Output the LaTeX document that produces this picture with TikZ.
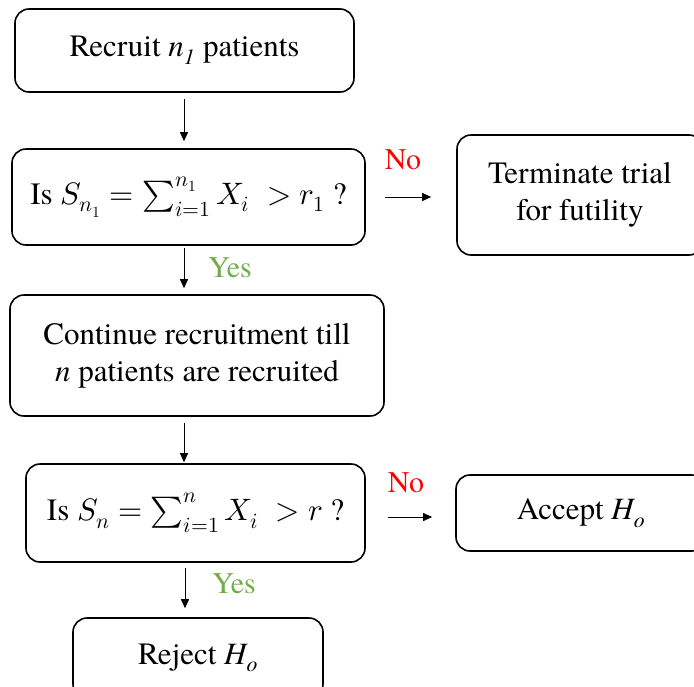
\documentclass[tikz,border=0pt]{standalone}
\usepackage{unicode-math}
\setmainfont{TeX Gyre Termes}
\usetikzlibrary{arrows.meta}
\definecolor{nored}{RGB}{255,0,0}
\definecolor{yesgreen}{RGB}{112,173,71}
\begin{document}
\begin{tikzpicture}[x=1pt,y=-1pt,
  box/.style={draw, line width=1.6pt, rounded corners=14pt, align=center,
    font=\fontsize{31}{37}\selectfont, inner sep=0pt},
  flow/.style={-{Triangle[length=9pt,width=8pt]}, line width=0.9pt},
  lab/.style={font=\fontsize{30}{34}\selectfont, inner sep=0pt}]
\useasboundingbox (0,0) rectangle (694,686);
\clip (0,0) rectangle (694,686);
\node[box, minimum width=339pt, minimum height=83pt] (b1) at (184.5,50.5) {Recruit \textit{n\textsubscript{1}} patients};
\node[box, minimum width=353pt, minimum height=96pt] (b2) at (188.5,197) {Is $S_{n_1}=\sum_{i=1}^{n_1} X_i\;>r_1$ ?};
\node[box, minimum width=246pt, minimum height=120pt] (b3) at (580,195) {Terminate trial\\for futility};
\node[box, minimum width=374pt, minimum height=121pt] (b4) at (197,355.5) {Continue recruitment till\\\textit{n} patients are recruited};
\node[box, minimum width=339pt, minimum height=98pt] (b5) at (195.5,513) {Is $S_{n}=\sum_{i=1}^{n} X_i\;>r$ ?};
\node[box, minimum width=250pt, minimum height=76pt] (b6) at (581,513) {Accept \textit{H\textsubscript{o}}};
\node[box, minimum width=250pt, minimum height=80pt] (b7) at (198,658) {Reject \textit{H\textsubscript{o}}};
\draw[flow, shorten <=6pt, shorten >=7pt] (b1.south -| 184,0) -- (b2.north -| 184,0);
\draw[flow, shorten <=2pt, shorten >=6pt] (b2.south -| 184,0) -- (b4.north -| 184,0);
\draw[flow, shorten <=6pt, shorten >=1pt] (b4.south -| 184,0) -- (b5.north -| 184,0);
\draw[flow, shorten <=5pt, shorten >=9pt] (b5.south -| 185,0) -- (b7.north -| 185,0);
\draw[flow, shorten <=19pt, shorten >=25pt] (b2.east |- 0,197) -- (b3.west |- 0,197);
\draw[flow, shorten <=22pt, shorten >=23pt] (b5.east |- 0,517) -- (b6.west |- 0,517);
\node[lab, text=nored] (no1) at (403,160) {No};
\node[lab, text=yesgreen] (yes1) at (230,268) {Yes};
\node[lab, text=nored] (no2) at (406,483) {No};
\node[lab, text=yesgreen] (yes2) at (234,584) {Yes};
\end{tikzpicture}
\end{document}
